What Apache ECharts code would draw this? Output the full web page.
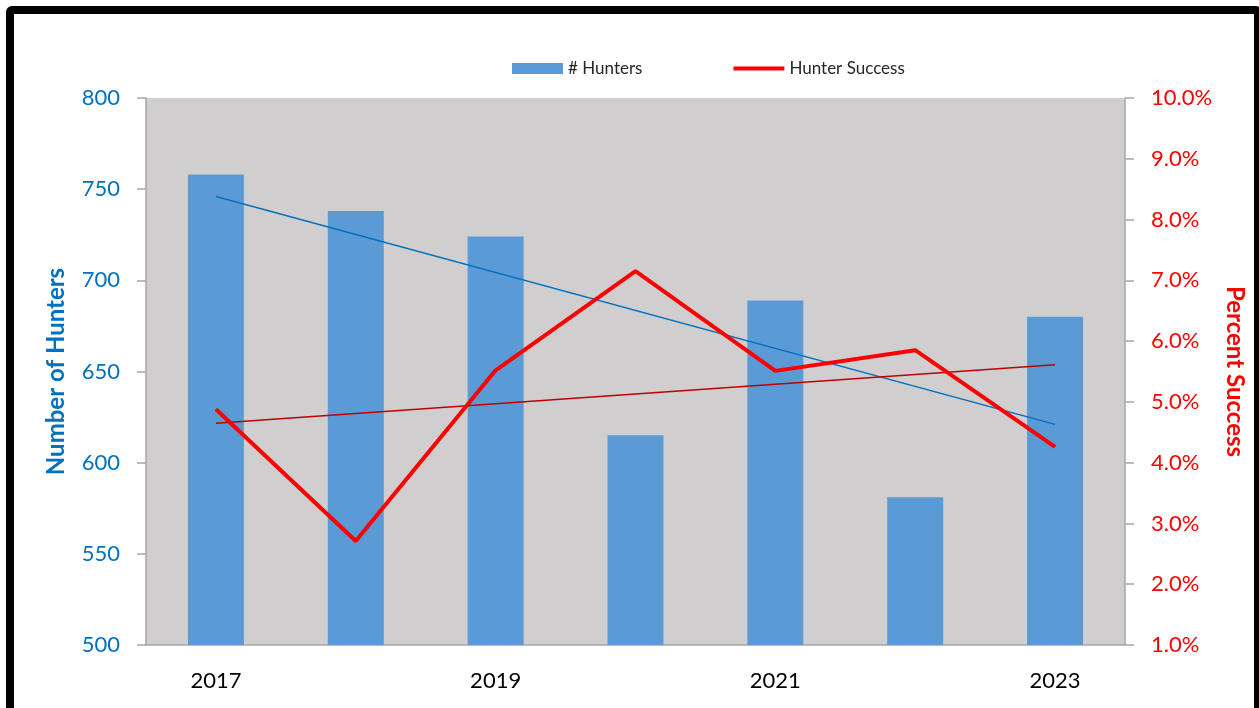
<!DOCTYPE html>
<html>
<head>
<meta charset="utf-8">
<script src="https://cdn.jsdelivr.net/npm/echarts@6/dist/echarts.min.js"></script>
<style>
html, body { margin: 0; padding: 0; background: #fff; overflow: hidden; }
#frame { position: absolute; left: 6px; top: 6px; width: 1240px; height: 720px;
  border: 8px solid #000; border-radius: 6px; }
#main { position: absolute; left: 0; top: 0; width: 1259px; height: 708px; }
</style>
</head>
<body>
<div id="frame"></div>
<div id="main"></div>
<script>
// chart data
var years = ['2017', '2018', '2019', '2020', '2021', '2022', '2023'];
var hunters = [758, 738, 724, 615, 689, 581, 680];
var success = [4.88, 2.71, 5.52, 7.15, 5.51, 5.85, 4.26];
// trend line ends
var huntersTrend = [746, null, null, null, null, null, 621];
var successTrend = [4.65, null, null, null, null, null, 5.61];

var font = 'Lato, "Open Sans", sans-serif';

function drawChart() {
	var dom = document.getElementById('main');
	var myChart = echarts.init(dom);
	var option = {
		animation: false,
		textStyle: { fontFamily: font },
		legend: {
			left: 507,
			top: 55,
			itemGap: 91,
			itemWidth: 51,
			itemHeight: 11,
			textStyle: { fontSize: 17, color: '#262626', fontFamily: font },
			data: [
				{ name: '# Hunters', icon: 'rect' },
				{ name: 'Hunter Success', icon: 'path://M0,0L54,0L54,4L0,4Z' }
			]
		},
		grid: {
			left: 146, right: 134, top: 98, bottom: 63,
			show: true, backgroundColor: '#D0CECF', borderWidth: 0
		},
		xAxis: {
			type: 'category',
			data: years,
			axisLine: { lineStyle: { color: '#A6A6A6', width: 1.5 } },
			axisTick: { interval: 0, length: 9, lineStyle: { color: '#A6A6A6', width: 1.5 } },
			axisLabel: { interval: 1, margin: 25, fontSize: 22, color: '#000' }
		},
		yAxis: [{
			type: 'value',
			min: 500, max: 800, interval: 50,
			name: 'Number of Hunters',
			nameLocation: 'middle',
			nameGap: 78,
			nameTextStyle: { fontSize: 24, fontWeight: 'bold', color: '#0070C0' },
			splitLine: { show: false },
			axisLine: { show: true, lineStyle: { color: '#A6A6A6', width: 1.5 } },
			axisTick: { show: true, length: 9, lineStyle: { color: '#A6A6A6', width: 1.5 } },
			axisLabel: { margin: 26, fontSize: 22, color: '#0070C0' }
		}, {
			type: 'value',
			min: 1, max: 10, interval: 1,
			name: 'Percent Success',
			nameLocation: 'middle',
			nameGap: 96,
			nameRotate: -90,
			nameTextStyle: { fontSize: 24, fontWeight: 'bold', color: '#FF0000' },
			splitLine: { show: false },
			axisLine: { show: true, lineStyle: { color: '#A6A6A6', width: 1.5 } },
			axisTick: { show: true, length: 9, lineStyle: { color: '#A6A6A6', width: 1.5 } },
			axisLabel: {
				margin: 26, fontSize: 22, color: '#FF0000',
				formatter: function (v) { return v.toFixed(1) + '%'; }
			}
		}],
		series: [{
			name: '# Hunters',
			type: 'bar',
			barWidth: 56,
			itemStyle: { color: '#5B9BD5' },
			data: hunters
		}, {
			name: 'Hunters Trend',
			type: 'line',
			symbol: 'none',
			connectNulls: true,
			lineStyle: { color: '#0070C0', width: 1.5 },
			z: 3,
			data: huntersTrend
		}, {
			name: 'Success Trend',
			type: 'line',
			yAxisIndex: 1,
			symbol: 'none',
			connectNulls: true,
			lineStyle: { color: '#C00000', width: 1.5 },
			z: 3,
			data: successTrend
		}, {
			name: 'Hunter Success',
			type: 'line',
			yAxisIndex: 1,
			symbol: 'none',
			itemStyle: { color: '#FF0000' },
			lineStyle: { color: '#FF0000', width: 4 },
			z: 4,
			data: success
		}]
	};
	myChart.setOption(option, true);
}

drawChart();
</script>
</body>
</html>
